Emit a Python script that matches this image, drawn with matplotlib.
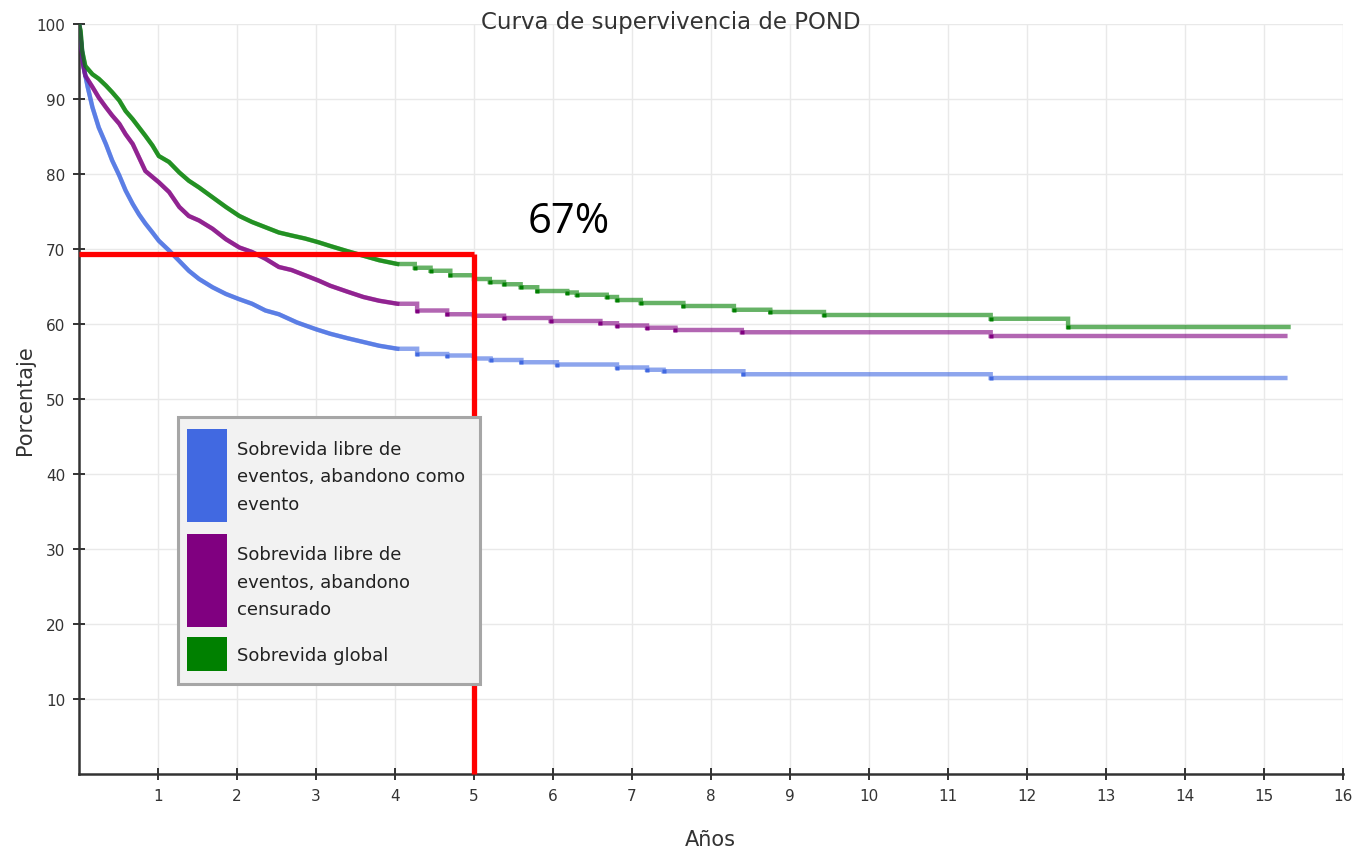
import matplotlib
matplotlib.use("Agg")
import matplotlib.pyplot as plt
from matplotlib.patches import Rectangle

# ---------------- data ----------------
# early part of each curve (dense, drawn as a polyline)
years_blue_early = [0, 0.03, 0.06, 0.11, 0.17, 0.25, 0.34, 0.42, 0.51, 0.59, 0.68, 0.76, 0.84,
                    0.93, 1.01, 1.14, 1.27, 1.39, 1.52, 1.69, 1.86, 2.03, 2.19, 2.36, 2.53,
                    2.76, 3.0, 3.18, 3.4, 3.6, 3.8, 4.03]
pct_blue_early = [100, 97.3, 94.2, 91.6, 88.9, 86.2, 84.0, 81.8, 79.8, 77.8, 76.0, 74.6, 73.4,
                  72.2, 71.1, 69.8, 68.4, 67.1, 66.0, 64.9, 64.0, 63.3, 62.7, 61.8, 61.3,
                  60.2, 59.3, 58.7, 58.1, 57.6, 57.1, 56.7]
# later part (Kaplan-Meier steps)
years_blue_late = [4.28, 4.66, 5.0, 5.21, 5.6, 6.05, 6.81, 7.19, 7.40, 8.41, 11.54, 15.27]
pct_blue_late = [56.0, 55.8, 55.4, 55.2, 54.9, 54.6, 54.2, 53.9, 53.7, 53.3, 52.8, 52.8]

years_purple_early = [0, 0.02, 0.05, 0.08, 0.17, 0.25, 0.34, 0.42, 0.51, 0.59, 0.68, 0.76,
                      0.84, 0.93, 1.01, 1.14, 1.27, 1.39, 1.52, 1.69, 1.86, 2.03, 2.19, 2.36,
                      2.53, 2.69, 2.86, 3.03, 3.18, 3.4, 3.6, 3.8, 4.03]
pct_purple_early = [100, 98.2, 94.7, 93.1, 91.6, 90.2, 88.9, 87.8, 86.7, 85.3, 84.0, 82.2,
                    80.4, 79.6, 78.9, 77.6, 75.6, 74.4, 73.8, 72.7, 71.3, 70.2, 69.6, 68.7,
                    67.6, 67.2, 66.5, 65.8, 65.1, 64.3, 63.6, 63.1, 62.7]
years_purple_late = [4.28, 4.66, 5.0, 5.38, 5.97, 6.6, 6.81, 7.19, 7.55, 8.39, 11.54, 15.27]
pct_purple_late = [61.8, 61.3, 61.1, 60.8, 60.4, 60.1, 59.8, 59.5, 59.2, 58.9, 58.4, 58.4]

years_green_early = [0, 0.02, 0.04, 0.08, 0.17, 0.25, 0.34, 0.42, 0.51, 0.59, 0.68, 0.76,
                     0.84, 0.93, 1.01, 1.14, 1.27, 1.39, 1.52, 1.69, 1.86, 2.03, 2.19, 2.36,
                     2.53, 2.69, 2.86, 3.03, 3.18, 3.4, 3.6, 3.8, 4.03]
pct_green_early = [100, 99.1, 96.4, 94.4, 93.3, 92.7, 91.8, 90.9, 89.8, 88.4, 87.3, 86.2,
                   85.1, 83.8, 82.4, 81.6, 80.2, 79.1, 78.2, 76.9, 75.6, 74.4, 73.6, 72.9,
                   72.2, 71.8, 71.4, 70.9, 70.4, 69.7, 69.1, 68.5, 68.0]
years_green_late = [4.25, 4.45, 4.7, 5.0, 5.2, 5.38, 5.59, 5.8, 6.18, 6.30, 6.68, 6.81, 7.11,
                    7.65, 8.29, 8.75, 9.43, 11.54, 12.52, 15.31]
pct_green_late = [67.5, 67.1, 66.5, 66.0, 65.6, 65.3, 64.9, 64.4, 64.2, 63.9, 63.6, 63.2, 62.8,
                  62.4, 61.9, 61.6, 61.2, 60.7, 59.6, 59.6]

series_labels = ["Sobrevida libre de\neventos, abandono como\nevento",
                 "Sobrevida libre de\neventos, abandono\ncensurado",
                 "Sobrevida global"]
series_colors = ["#4169e1", "#800080", "#008000"]

marker_year = 5.0
marker_pct = 69.3
annotation_text = "67%"

x_ticks = list(range(1, 17))
y_ticks = list(range(10, 101, 10))

# ---------------- figure ----------------
W, H = 1354, 854
fig = plt.figure(figsize=(W / 100, H / 100), dpi=100)
fig.patch.set_facecolor("white")
ax = fig.add_axes([79 / W, 1 - 775 / H, (1343 - 79) / W, 750 / H])

ax.set_xlim(0, 16)
ax.set_ylim(0, 100)
ax.set_xticks(x_ticks)
ax.set_yticks(y_ticks)
ax.grid(True, color="#e9e9e9", lw=1.0, zorder=0)
ax.set_axisbelow(True)
for s in ["top", "right"]:
    ax.spines[s].set_visible(False)
for s in ["left", "bottom"]:
    ax.spines[s].set_color("#333333")
    ax.spines[s].set_linewidth(1.8)
ax.tick_params(direction="inout", length=8, width=1.4, color="#333333",
               labelsize=11, labelcolor="#333333", pad=6)


def build_path(te, ve, tl, vl):
    xs, ys = list(te), list(ve)
    prev = ve[-1]
    for t, v in zip(tl, vl):
        xs += [t, t]
        ys += [prev, v]
        prev = v
    return xs, ys


data = [
    (years_blue_early, pct_blue_early, years_blue_late, pct_blue_late),
    (years_purple_early, pct_purple_early, years_purple_late, pct_purple_late),
    (years_green_early, pct_green_early, years_green_late, pct_green_late),
]
for (te, ve, tl, vl), c in zip(data, series_colors):
    xs, ys = build_path(te, ve, tl, vl)
    ax.plot(xs, ys, color=c, lw=3.2, alpha=0.6, zorder=3, solid_joinstyle="miter")
    ax.plot(te, ve, color=c, lw=3.0, alpha=0.65, zorder=3.5)
    ax.plot(tl[:-1], vl[:-1], "s", ms=2.6, color=c, mec="none", zorder=4)

# red reference lines
ax.plot([0, marker_year], [marker_pct, marker_pct], color="#ff0000", lw=3.8,
        zorder=10, solid_capstyle="butt", clip_on=False)
ax.plot([marker_year, marker_year], [0, marker_pct], color="#ff0000", lw=3.8,
        zorder=10, solid_capstyle="butt", clip_on=False)
ax.text(6.2, 73.7, annotation_text, fontsize=30, family=["Open Sans", "DejaVu Sans"],
        ha="center", va="center", color="black", zorder=11)

# title and axis labels
fig.text(671 / W, 1 - 22 / H, "Curva de supervivencia de POND", ha="center",
         va="center", fontsize=16.5, color="#333333")
fig.text(710 / W, 1 - 840 / H, "Años", ha="center", va="center", fontsize=15,
         color="#333333")
fig.text(25 / W, 1 - 400 / H, "Porcentaje", ha="center", va="center", fontsize=15,
         rotation=90, color="#333333")

# legend box (drawn in figure pixel space)
def fx(px):
    return px / W


def fy(py):
    return 1 - py / H


fig.patches.append(Rectangle((fx(178), fy(685)), fx(480) - fx(178), fy(418) - fy(685),
                             transform=fig.transFigure, facecolor="#f2f2f2",
                             edgecolor="#a6a6a6", lw=2.2, zorder=8))
swatches = [(430, 523), (535, 628), (638, 672)]
for (top, bot), c, lab in zip(swatches, series_colors, series_labels):
    fig.patches.append(Rectangle((fx(187), fy(bot)), fx(227) - fx(187), fy(top) - fy(bot),
                                 transform=fig.transFigure, facecolor=c,
                                 edgecolor="none", zorder=9))
    fig.text(fx(237), fy((top + bot) / 2 + 1), lab, ha="left", va="center",
             fontsize=13, linespacing=1.7, color="#222222", zorder=9)

fig.savefig("out.png", dpi=100)
